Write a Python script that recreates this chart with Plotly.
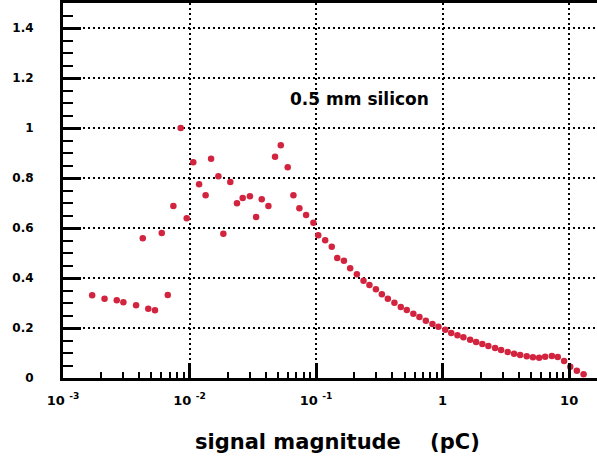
import plotly.graph_objects as go

# Signal magnitude (pC) and normalised response, 0.5 mm silicon sensor
charge_pc = [
    1.70e-3, 2.13e-3, 2.66e-3, 3.00e-3, 3.78e-3, 4.72e-3, 5.33e-3, 6.73e-3,
    4.27e-3, 6.03e-3, 7.45e-3, 8.51e-3, 9.50e-3,
    1.07e-2, 1.19e-2, 1.34e-2, 1.48e-2, 1.69e-2, 1.85e-2, 2.10e-2, 2.37e-2,
    2.63e-2, 3.00e-2, 3.36e-2, 3.72e-2, 4.20e-2, 4.74e-2, 5.26e-2, 5.97e-2,
    6.62e-2, 7.38e-2, 8.34e-2, 9.52e-2,
    0.104, 0.118, 0.133, 0.147, 0.166, 0.186, 0.210, 0.237, 0.264, 0.297,
    0.331, 0.369, 0.416, 0.467, 0.521, 0.587, 0.656, 0.737, 0.831, 0.927,
    1.05, 1.17, 1.31, 1.46, 1.65, 1.84, 2.06, 2.30, 2.60, 2.90, 3.27, 3.67,
    4.10, 4.62, 5.17, 5.79, 6.46, 7.30, 8.13, 9.12, 10.2, 11.5, 13.0,
]
response = [
    0.331, 0.317, 0.311, 0.303, 0.291, 0.277, 0.271, 0.332,
    0.559, 0.580, 0.688, 1.000, 0.639,
    0.863, 0.775, 0.731, 0.877, 0.807, 0.577, 0.784, 0.699,
    0.720, 0.727, 0.644, 0.715, 0.688, 0.885, 0.931, 0.843,
    0.731, 0.679, 0.652, 0.621,
    0.571, 0.551, 0.525, 0.480, 0.469, 0.439, 0.415, 0.389, 0.372, 0.355,
    0.335, 0.317, 0.301, 0.284, 0.272, 0.257, 0.244, 0.229, 0.216, 0.205,
    0.193, 0.180, 0.171, 0.163, 0.153, 0.144, 0.136, 0.128, 0.120, 0.112,
    0.104, 0.097, 0.092, 0.087, 0.083, 0.081, 0.085, 0.088, 0.084, 0.068,
    0.045, 0.029, 0.015,
]

x_tick_vals = [1e-3, 1e-2, 1e-1, 1, 10]
x_tick_text = ["10\u00a0<sup>-3</sup>", "10\u00a0<sup>-2</sup>",
               "10\u00a0<sup>-1</sup>", "1", "10"]
y_tick_vals = [0, 0.2, 0.4, 0.6, 0.8, 1.0, 1.2, 1.4]
y_tick_text = ["0", "0.2", "0.4", "0.6", "0.8", "1", "1.2", "1.4"]

x_title = "signal magnitude\u00a0\u00a0\u00a0\u00a0(pC)"
label_text = "0.5 mm silicon"

FONT = "DejaVu Sans"
GRID = dict(showgrid=True, gridcolor="black", gridwidth=2, griddash="2px,3px")

fig = go.Figure(
    go.Scatter(
        x=charge_pc,
        y=response,
        mode="markers",
        marker=dict(symbol="circle", size=6.5, color="#d3243f", line=dict(width=0)),
        cliponaxis=False,
        showlegend=False,
    )
)

x_minor = [m * 10.0 ** e for e in range(-3, 2) for m in range(2, 10)]

fig.update_layout(
    width=597,
    height=458,
    margin=dict(l=63, r=0, t=3, b=80),
    paper_bgcolor="white",
    plot_bgcolor="white",
    font=dict(family=FONT, color="black"),
    xaxis=dict(
        type="log",
        range=[-3, 1.22],
        tickmode="array",
        tickvals=x_tick_vals,
        ticktext=x_tick_text,
        ticks="inside",
        ticklen=15,
        tickwidth=3,
        tickcolor="black",
        tickfont=dict(family=FONT, size=13, weight="bold"),
        ticklabelstandoff=8,
        minor=dict(tickmode="array", tickvals=x_minor, ticks="inside",
                   ticklen=6, tickwidth=2, tickcolor="black", showgrid=False),
        showline=True,
        linecolor="black",
        linewidth=3,
        mirror=True,
        zeroline=False,
        **GRID,
    ),
    yaxis=dict(
        range=[0, 1.5],
        tickmode="array",
        tickvals=y_tick_vals,
        ticktext=y_tick_text,
        ticks="inside",
        ticklen=18,
        tickwidth=3,
        tickcolor="black",
        tickfont=dict(family=FONT, size=12, weight="bold"),
        ticklabelstandoff=24,
        minor=dict(dtick=0.05, ticks="inside", ticklen=10, tickwidth=2,
                   tickcolor="black", showgrid=False),
        showline=True,
        linecolor="black",
        linewidth=3,
        mirror=False,
        zeroline=False,
        **GRID,
    ),
    annotations=[
        dict(
            x=-1.221, y=1.116, xref="x", yref="y",
            text=label_text, showarrow=False,
            xanchor="left", yanchor="middle",
            font=dict(family=FONT, size=17, weight="bold", color="black"),
        ),
        dict(
            x=(337 - 63) / 534, y=-(442 - 378) / 375, xref="paper", yref="paper",
            text=x_title, showarrow=False,
            xanchor="center", yanchor="middle",
            font=dict(family=FONT, size=21, weight="bold", color="black"),
        ),
    ],
)

fig.write_html("out.html")
